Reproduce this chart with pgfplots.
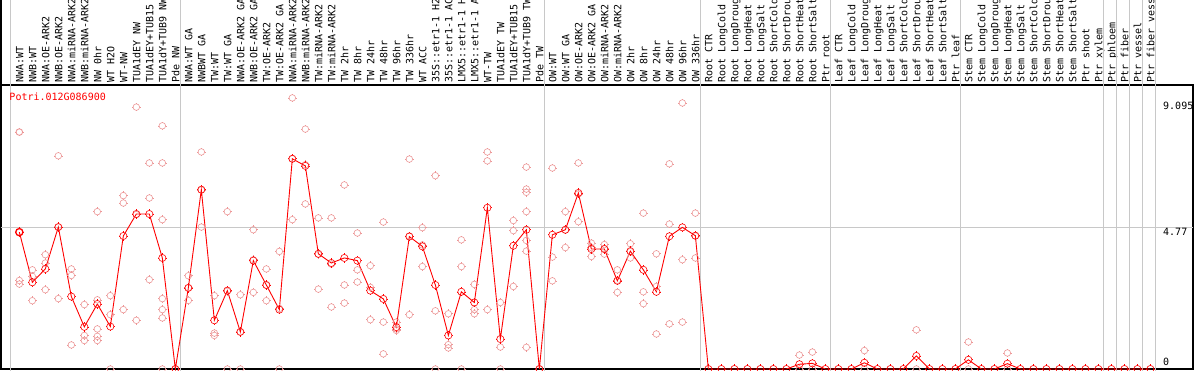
\documentclass[border=0pt]{standalone}
\usepackage{pgfplots}
\pgfplotsset{compat=1.18}
\usepackage{fontspec}
\setmonofont{DejaVu Sans Mono}
\definecolor{repc}{RGB}{236,150,150}
\definecolor{gridc}{RGB}{200,200,200}
\pgfdeclareplotmark{sun}{%
  \pgfpathcircle{\pgfpointorigin}{\pgfplotmarksize}%
  \pgfusepathqstroke
  \pgfsetlinewidth{0.6pt}%
  \pgfpathmoveto{\pgfqpoint{0pt}{\pgfplotmarksize}}%
  \pgfpathlineto{\pgfqpoint{0pt}{1.3\pgfplotmarksize}}%
  \pgfpathmoveto{\pgfqpoint{0pt}{-\pgfplotmarksize}}%
  \pgfpathlineto{\pgfqpoint{0pt}{-1.3\pgfplotmarksize}}%
  \pgfpathmoveto{\pgfqpoint{\pgfplotmarksize}{0pt}}%
  \pgfpathlineto{\pgfqpoint{1.3\pgfplotmarksize}{0pt}}%
  \pgfpathmoveto{\pgfqpoint{-\pgfplotmarksize}{0pt}}%
  \pgfpathlineto{\pgfqpoint{-1.3\pgfplotmarksize}{0pt}}%
  \pgfusepathqstroke}
\begin{document}
\begin{tikzpicture}
\begin{axis}[
  scale only axis, width=1192pt, height=284pt,
  xmin=-1.41, xmax=90.28, ymin=0, ymax=9.565,
  axis line style={line width=1.6pt},
  clip=false,
  xtick={0,...,87},
  xticklabels={NWA:WT,NWB:WT,NWA:OE-ARK2,NWB:OE-ARK2,NWA:miRNA-ARK2,NWB:miRNA-ARK2,NW 0hr,WT H2O,WT-NW,TUA1dEY NW,TUA1dEY+TUB15,TUA1dY+TUB9 NW,Pde NW,
    NWA:WT GA,NWBWT GA,TW:WT,TW:WT GA,NWA:OE-ARK2 GA,NWB:OE-ARK2 GA,TW:OE-ARK2,TW:OE-ARK2 GA,NWA:miRNA-ARK2,NWB:miRNA-ARK2,TW:miRNA-ARK2,TW:miRNA-ARK2,TW 2hr,TW 8hr,TW 24hr,TW 48hr,TW 96hr,TW 336hr,WT ACC,35S::etr1-1 H2,35S::etr1-1 AC,LMX5::etr1-1 H,LMX5::etr1-1 A,WT-TW,TUA1dEY TW,TUA1dEY+TUB15,TUA1dY+TUB9 TW,Pde TW,
    OW:WT,OW:WT GA,OW:OE-ARK2,OW:OE-ARK2 GA,OW:miRNA-ARK2,OW:miRNA-ARK2,OW 2hr,OW 8hr,OW 24hr,OW 48hr,OW 96hr,OW 336hr,
    Root CTR,Root LongCold,Root LongDroug,Root LongHeat,Root LongSalt,Root ShortCold,Root ShortDrou,Root ShortHeat,Root ShortSalt,Ptr root,
    Leaf CTR,Leaf LongCold,Leaf LongDroug,Leaf LongHeat,Leaf LongSalt,Leaf ShortCold,Leaf ShortDrou,Leaf ShortHeat,Leaf ShortSalt,Ptr leaf,
    Stem CTR,Stem LongCold,Stem LongDroug,Stem LongHeat,Stem LongSalt,Stem ShortCold,Stem ShortDrou,Stem ShortHeat,Stem ShortSalt,Ptr shoot,Ptr xylem,Ptr phloem,Ptr fiber,Ptr vessel,Ptr fiber vess},
  xticklabel pos=upper,
  xticklabel style={rotate=90, anchor=west, font=\ttfamily\fontsize{10}{12}\selectfont, text height=8pt, text depth=0pt, inner sep=2.5pt},
  major tick length=0pt,
  ytick=\empty,
]
\draw[gridc, line width=0.8pt] (axis cs:-1.41,4.77) -- (axis cs:90.28,4.77);
\pgfplotsinvokeforeach{-0.72,12.36,40.42,52.41,62.41,72.41,83.38,84.40,85.37,86.40,87.40}{
  \draw[gridc, line width=0.8pt] (axis cs:#1,-0.2) -- (axis cs:#1,13);
}
\draw[black, line width=1.6pt] (rel axis cs:0,1) -- (rel axis cs:0,1.35);
\coordinate (O) at (rel axis cs:0,0);
\addplot[only marks, mark=sun, mark size=3.3pt, mark options={draw=repc, line width=0.9pt}] coordinates {
(0,7.98)(0,2.98)(0,2.86)
(1,3.34)(1,3.12)(1,2.30)
(2,3.85)(2,3.57)(2,2.67)
(3,7.18)(3,2.37)(3,4.78)
(4,3.37)(4,3.15)(4,0.81)
(5,2.17)(5,1.13)(5,0.96)
(6,5.30)(6,2.33)(6,1.35)(6,1.10)(6,0.96)
(7,2.47)(7,1.83)(7,0)
(8,5.84)(8,5.59)(8,2.00)
(9,8.82)(9,1.64)(9,5.20)
(10,6.94)(10,5.76)(10,3.01)
(11,8.19)(11,6.94)(11,5.03)(11,2.37)(11,2.00)(11,1.72)(11,0)
(12,0)
(13,3.14)(13,2.31)(13,2.74)
(14,7.31)(14,4.78)(14,6.03)
(15,2.47)(15,1.21)(15,1.13)
(16,5.30)(16,0)(16,2.62)
(17,2.50)(17,0)(17,1.25)
(18,4.69)(18,2.58)(18,3.68)
(19,3.37)(19,2.30)(19,2.82)
(20,3.96)(20,0)(20,2.04)
(21,9.13)(21,5.03)(21,7.08)
(22,8.08)(22,5.56)(22,6.88)
(23,5.09)(23,2.69)(23,3.86)
(24,5.09)(24,2.09)(24,3.53)
(25,6.20)(25,2.83)(25,2.22)
(26,4.58)(26,3.34)(26,2.93)
(27,3.48)(27,2.75)(27,1.66)
(28,4.95)(28,1.58)(28,0.51)
(29,1.58)(29,1.30)(29,1.35)
(30,7.07)(30,1.83)(30,4.48)
(31,4.76)(31,3.45)(31,4.18)
(32,6.51)(32,1.96)(32,0)
(33,1.86)(33,0.82)(33,0.71)
(34,4.35)(34,3.45)(34,0)
(35,2.85)(35,2.00)(35,1.86)
(36,7.31)(36,7.01)(36,2.00)
(37,2.24)(37,0.74)(37,0)
(38,5.00)(38,4.66)(38,2.78)
(39,6.80)(39,6.06)(39,5.95)(39,5.30)(39,4.33)(39,3.97)(39,0.73)
(40,0)
(41,6.77)(41,3.77)(41,2.97)
(42,5.30)(42,4.09)(42,4.68)
(43,6.94)(43,4.96)(43,5.89)
(44,4.24)(44,3.79)(44,4.09)
(45,4.19)(45,3.87)(45,4.06)
(46,3.34)(46,2.58)(46,2.99)
(47,4.22)(47,3.74)(47,3.95)
(48,5.25)(48,2.60)(48,2.20)
(49,3.88)(49,2.78)(49,1.18)
(50,6.91)(50,4.88)(50,1.52)
(51,8.96)(51,3.68)(51,1.58)
(52,5.25)(52,3.74)(52,4.48)
(60,0.47)(60,0)
(61,0.57)(61,0)
(65,0.62)(65,0)
(69,1.32)(69,0)
(73,0.91)(73,0)
(76,0.54)(76,0)
};
\addplot[red, line width=0.9pt, mark=sun, mark size=3.6pt, mark options={line width=1.3pt}] coordinates {
(0,4.61)(1,2.92)(2,3.37)(3,4.78)(4,2.44)(5,1.42)(6,2.19)(7,1.43)(8,4.48)(9,5.22)
(10,5.22)(11,3.74)(12,0)(13,2.73)(14,6.04)(15,1.64)(16,2.64)(17,1.25)(18,3.65)(19,2.83)
(20,2.00)(21,7.08)(22,6.84)(23,3.88)(24,3.57)(25,3.74)(26,3.65)(27,2.64)(28,2.36)(29,1.41)
(30,4.46)(31,4.13)(32,2.83)(33,1.13)(34,2.60)(35,2.24)(36,5.43)(37,1.01)(38,4.15)(39,4.69)
(40,0)(41,4.52)(42,4.69)(43,5.93)(44,4.04)(45,4.04)(46,2.97)(47,3.97)(48,3.34)(49,2.60)
(50,4.47)(51,4.77)(52,4.49)(53,0)(54,0)(55,0)(56,0)(57,0)(58,0)(59,0)
(60,0.16)(61,0.19)(62,0)(63,0)(64,0)(65,0.21)(66,0)(67,0)(68,0)(69,0.44)
(70,0)(71,0)(72,0)(73,0.31)(74,0)(75,0)(76,0.18)(77,0)(78,0)(79,0)
(80,0)(81,0)(82,0)(83,0)(84,0)(85,0)(86,0)(87,0)
};
\node[anchor=north west, inner sep=0pt, text=red, font=\ttfamily\fontsize{10}{12}\selectfont, xshift=8.3pt, yshift=-7.5pt] at (rel axis cs:0,1) {Potri.012G086900};
\node[anchor=north west, inner sep=0pt, font=\ttfamily\fontsize{10}{12}\selectfont, yshift=-2.5pt] at (axis cs:87.97,9.095) {9.095};
\node[anchor=north west, inner sep=0pt, font=\ttfamily\fontsize{10}{12}\selectfont, yshift=-0.5pt] at (axis cs:87.97,4.77) {4.77};
\node[anchor=south west, inner sep=0pt, font=\ttfamily\fontsize{10}{12}\selectfont, yshift=3.5pt] at (axis cs:87.97,0) {0};
\end{axis}
\pgfresetboundingbox
\path[use as bounding box] ([xshift=-1pt,yshift=-1pt]O) rectangle ([xshift=1193pt,yshift=369pt]O);
\end{tikzpicture}
\end{document}
